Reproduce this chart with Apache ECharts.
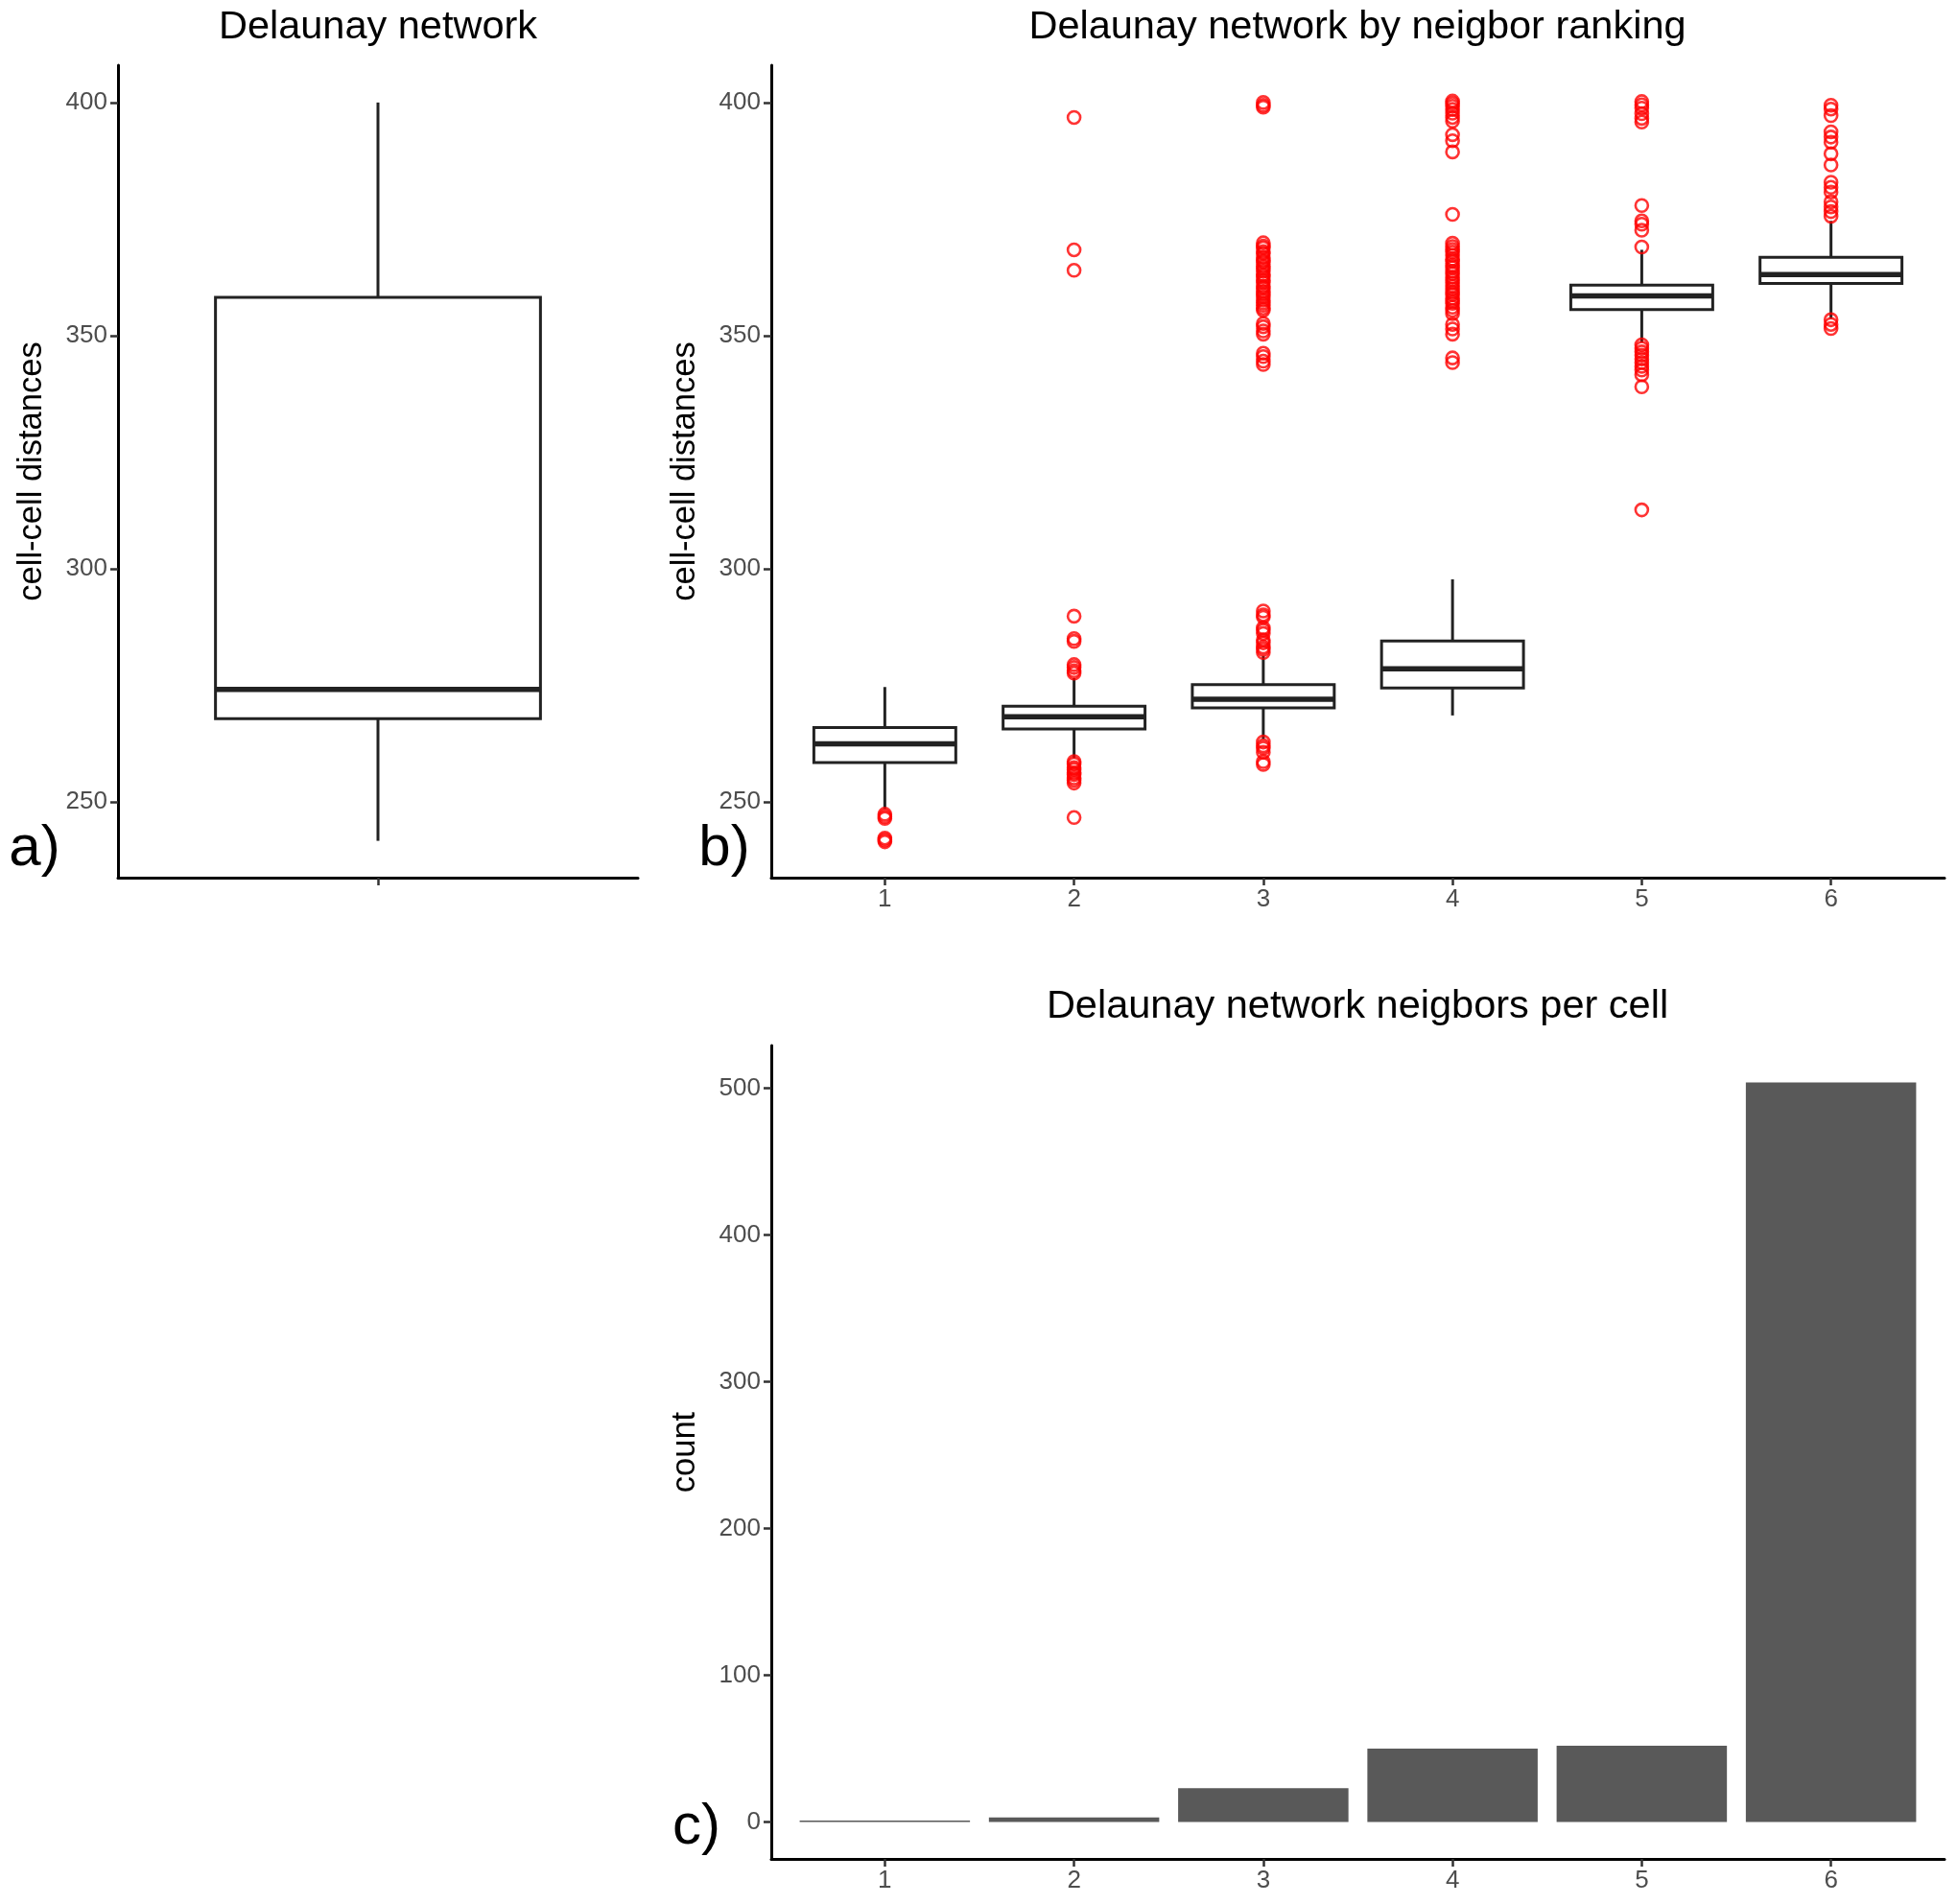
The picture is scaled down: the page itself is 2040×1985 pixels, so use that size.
<!DOCTYPE html>
<html><head><meta charset="utf-8">
<script src="https://cdn.jsdelivr.net/npm/echarts@6/dist/echarts.min.js"></script>
<style>html,body{margin:0;padding:0;background:#fff}#c{width:2040px;height:1985px}</style>
</head><body><div id="c"></div>
<script>
// ---------- Data ----------
// Panel a: all Delaunay cell-cell distances  [low whisker, Q1, median, Q3, high whisker]
const overallBox = [241.6, 267.8, 274.1, 358.2, 400.0];

// Panel b: distances by neighbour ranking
const rankCategories = [1, 2, 3, 4, 5, 6];
const rankLow    = [248.4, 259.3, 263.4, 268.5, 348.5, 353.6];
const rankQ1     = [258.4, 265.6, 270.1, 274.4, 355.6, 361.2];
const rankMedian = [262.4, 268.2, 272.0, 278.5, 358.5, 363.1];
const rankQ3     = [265.9, 270.5, 275.1, 284.5, 360.8, 366.8];
const rankHigh   = [274.6, 276.5, 281.3, 297.7, 368.4, 374.6];

const outliersRank1 = [247.3, 246.8, 246.4, 242.2, 241.8, 241.4];
const outliersRank2 = [396.8, 368.4, 364.0, 289.8, 285.0, 284.4, 279.4, 278.8, 278.1, 277.6,
  258.6, 258.1, 257.3, 256.9, 256.2, 255.8, 255.1, 254.6, 254.0, 246.6];
const outliersRank3 = [400.0, 399.4, 399.0, 369.9, 369.2, 368.8, 368.0, 367.6, 366.8, 366.1, 365.7,
  364.9, 364.4, 363.8, 363.1, 362.6, 361.9, 361.4, 360.6, 360.2, 359.5, 358.9, 358.3, 357.6, 357.0,
  356.5, 355.9, 355.4, 352.6, 351.9, 351.0, 350.3, 346.2, 345.5, 344.5, 343.8,
  290.9, 290.1, 289.6, 287.3, 286.8, 286.1, 284.7, 284.1, 283.2, 282.7, 282.0,
  262.8, 262.0, 261.5, 260.6, 258.6, 258.0];
const outliersRank4 = [400.3, 399.8, 399.2, 398.5, 397.7, 396.8, 396.0, 393.1, 391.8, 389.4, 376.0,
  369.8, 369.1, 368.5, 367.9, 367.2, 366.4, 365.9, 365.1, 364.6, 363.8, 363.3, 362.5, 361.9, 361.3,
  360.6, 360.0, 359.3, 358.8, 358.0, 357.4, 356.9, 356.1, 355.4, 354.7, 352.4, 351.4, 350.3, 345.2, 344.2];
const outliersRank5 = [400.2, 399.5, 398.8, 397.6, 396.6, 395.8, 377.9, 374.6, 373.9, 372.6, 369.0,
  348.0, 347.3, 346.5, 345.8, 345.0, 344.2, 343.4, 342.6, 341.6, 339.0, 312.6];
const outliersRank6 = [399.4, 398.6, 397.2, 393.7, 392.6, 391.5, 389.0, 386.6, 382.9, 381.8, 380.8,
  378.7, 377.6, 376.6, 375.6, 353.4, 352.4, 351.5];

// Panel c: neighbours per cell
const countCategories = [1, 2, 3, 4, 5, 6];
const neighborCounts = [1, 3, 23, 50, 52, 504];

// Axis tick values
const distanceTicks = [250, 300, 350, 400];
const countTicks = [0, 100, 200, 300, 400, 500];

// ---------- Build ----------
const FONT = 'Liberation Sans';
const outlierLists = [outliersRank1, outliersRank2, outliersRank3, outliersRank4, outliersRank5, outliersRank6];
const outlierData = [];
outlierLists.forEach((list, i) => list.forEach(v => outlierData.push([rankCategories[i], v])));
const rankBoxData = rankCategories.map((c, i) => [c, rankLow[i], rankQ1[i], rankMedian[i], rankQ3[i], rankHigh[i]]);
const overallBoxData = [[1].concat(overallBox)];
const barData = countCategories.map((c, i) => [c, neighborCounts[i]]);

function xAxisFor(gridIndex, cats, showLabels) {
  return {
    type: 'value', gridIndex, min: 0.4, max: cats[cats.length - 1] + 0.6,
    axisLine: { show: true, onZero: false, lineStyle: { color: '#000', width: 3 } },
    axisTick: { show: true, customValues: cats, length: 8, lineStyle: { color: '#333', width: 2.5 } },
    axisLabel: { show: showLabels, customValues: cats, color: '#4D4D4D', fontSize: 26, fontFamily: FONT, margin: 10 },
    splitLine: { show: false }
  };
}
function yAxisFor(gridIndex, min, max, ticks, name) {
  return {
    type: 'value', gridIndex, min, max, name, nameLocation: 'middle', nameGap: 72,
    nameTextStyle: { color: '#000', fontSize: 34.5, fontFamily: FONT },
    axisLine: { show: true, onZero: false, lineStyle: { color: '#000', width: 3 } },
    axisTick: { show: true, customValues: ticks, length: 8, lineStyle: { color: '#333', width: 2.5 } },
    axisLabel: { customValues: ticks, color: '#4D4D4D', fontSize: 26, fontFamily: FONT, margin: 11 },
    splitLine: { show: false }
  };
}
function renderBox(params, api) {
  const x = api.value(0);
  const lo = api.coord([x, api.value(1)]);
  const q1 = api.coord([x, api.value(2)]);
  const med = api.coord([x, api.value(3)]);
  const q3 = api.coord([x, api.value(4)]);
  const hi = api.coord([x, api.value(5)]);
  const half = api.size([0.75, 0])[0] / 2;
  const cx = lo[0];
  const ln = { stroke: '#222', lineWidth: 3 };
  return { type: 'group', children: [
    { type: 'line', shape: { x1: cx, y1: hi[1], x2: cx, y2: q3[1] }, style: ln },
    { type: 'line', shape: { x1: cx, y1: q1[1], x2: cx, y2: lo[1] }, style: ln },
    { type: 'rect', shape: { x: cx - half, y: q3[1], width: 2 * half, height: q1[1] - q3[1] }, style: { fill: '#fff', stroke: '#222', lineWidth: 3 } },
    { type: 'line', shape: { x1: cx - half, y1: med[1], x2: cx + half, y2: med[1] }, style: { stroke: '#222', lineWidth: 5.5 } }
  ]};
}
function renderBar(params, api) {
  const x = api.value(0), v = api.value(1);
  const p0 = api.coord([x - 0.45, v]);
  const p1 = api.coord([x + 0.45, 0]);
  return { type: 'rect', shape: { x: p0[0], y: p0[1], width: p1[0] - p0[0], height: p1[1] - p0[1] }, style: { fill: '#595959' } };
}
function txt(text, x, y, size) {
  return { type: 'text', x, y, style: { text, fontSize: size, fontFamily: FONT, fill: '#000', align: 'center', verticalAlign: 'middle' } };
}

const option = {
  animation: false,
  backgroundColor: '#fff',
  grid: [
    { left: 123, top: 68, width: 542, height: 847 },
    { left: 804, top: 68, width: 1223, height: 847 },
    { left: 804, top: 1090, width: 1223, height: 848 }
  ],
  xAxis: [ xAxisFor(0, [1], false), xAxisFor(1, rankCategories, true), xAxisFor(2, countCategories, true) ],
  yAxis: [
    yAxisFor(0, 233.7, 408, distanceTicks, 'cell-cell distances'),
    yAxisFor(1, 233.7, 408, distanceTicks, 'cell-cell distances'),
    yAxisFor(2, -25.2, 529.2, countTicks, 'count')
  ],
  series: [
    { type: 'custom', xAxisIndex: 0, yAxisIndex: 0, renderItem: renderBox, data: overallBoxData, encode: { x: 0, y: [1, 2, 3, 4, 5] } },
    { type: 'custom', xAxisIndex: 1, yAxisIndex: 1, renderItem: renderBox, data: rankBoxData, encode: { x: 0, y: [1, 2, 3, 4, 5] } },
    { type: 'scatter', xAxisIndex: 1, yAxisIndex: 1, data: outlierData, symbol: 'circle', symbolSize: 13,
      itemStyle: { color: 'rgba(0,0,0,0)', borderColor: '#FF0000', borderWidth: 2.6 }, z: 3 },
    { type: 'custom', xAxisIndex: 2, yAxisIndex: 2, renderItem: renderBar, data: barData, encode: { x: 0, y: 1 } }
  ],
  graphic: [
    txt('Delaunay network', 394, 29, 41.5),
    txt('Delaunay network by neigbor ranking', 1415, 29, 41.5),
    txt('Delaunay network neigbors per cell', 1415, 1050, 41.5),
    txt('a)', 36, 885, 60),
    txt('b)', 755, 885, 60),
    txt('c)', 726, 1905, 60)
  ]
};
echarts.init(document.getElementById('c')).setOption(option);
</script></body></html>
